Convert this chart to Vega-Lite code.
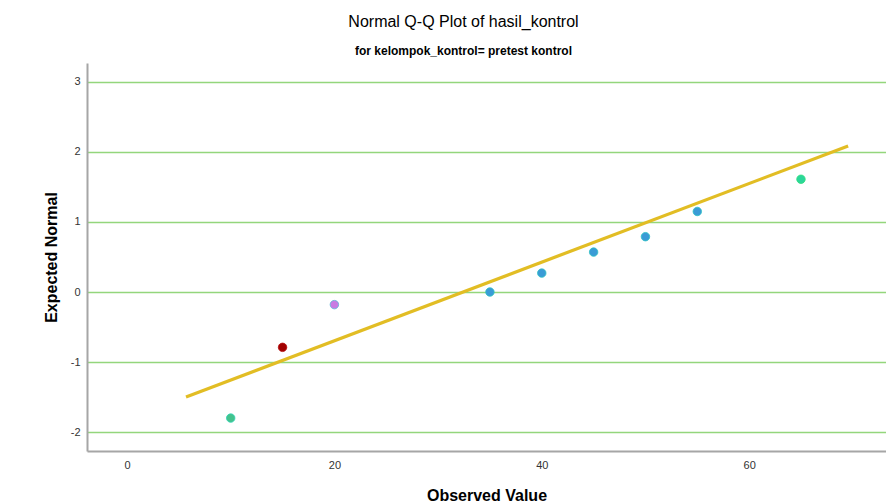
{
  "$schema": "https://vega.github.io/schema/vega-lite/v6.json",
  "width": 799,
  "height": 388,
  "autosize": "none",
  "padding": {"left": 87, "top": 63, "right": 0, "bottom": 52},
  "background": "white",
  "config": {
    "view": {"stroke": null},
    "font": "Liberation Sans"
  },
  "title": {
    "text": "Normal Q-Q Plot of hasil_kontrol",
    "subtitle": "for kelompok_kontrol= pretest kontrol",
    "anchor": "middle",
    "dx": -23,
    "fontSize": 16,
    "fontWeight": "normal",
    "font": "Liberation Sans",
    "color": "#000000",
    "subtitleFontSize": 12,
    "subtitleFontWeight": "bold",
    "subtitleFont": "Liberation Sans",
    "subtitleColor": "#000000",
    "subtitlePadding": 16,
    "offset": 6
  },
  "datasets": {
    "pts": [
      {"observed": 10, "expected": -1.80},
      {"observed": 15, "expected": -0.79},
      {"observed": 20, "expected": -0.18},
      {"observed": 35, "expected": 0.00},
      {"observed": 40, "expected": 0.27},
      {"observed": 45, "expected": 0.57},
      {"observed": 50, "expected": 0.79},
      {"observed": 55, "expected": 1.15},
      {"observed": 65, "expected": 1.61}
    ],
    "ref": [
      {"observed": 5.69, "expected": -1.50},
      {"observed": 69.55, "expected": 2.086}
    ]
  },
  "layer": [
    {
      "data": {"name": "ref"},
      "mark": {"type": "line", "color": "#e2bd24", "strokeWidth": 3.2, "clip": false},
      "encoding": {
        "x": {
          "field": "observed", "type": "quantitative",
          "scale": {"domain": [-3.86, 73.2], "nice": false, "zero": false},
          "axis": {
            "title": "Observed Value",
            "titleFont": "Liberation Sans",
            "titleFontSize": 16,
            "titleFontWeight": "bold",
            "titleColor": "#000000",
            "titlePadding": 17,
            "values": [0, 20, 40, 60],
            "labelExpr": "'' + datum.value",
            "labelFont": "Liberation Sans",
            "labelFontSize": 11,
            "labelColor": "#333333",
            "labelPadding": 8,
            "ticks": false,
            "grid": false,
            "domainColor": "#a6a6a6",
            "domainWidth": 2
          }
        },
        "y": {
          "field": "expected", "type": "quantitative",
          "scale": {"domain": [-2.27, 3.27], "nice": false, "zero": false},
          "axis": {
            "title": "Expected Normal",
            "titleFont": "Liberation Sans",
            "titleFontSize": 16,
            "titleFontWeight": "bold",
            "titleColor": "#000000",
            "titlePadding": 11,
            "values": [-2, -1, 0, 1, 2, 3],
            "labelExpr": "'' + datum.value",
            "labelFont": "Liberation Sans",
            "labelFontSize": 11,
            "labelColor": "#333333",
            "labelPadding": 7,
            "ticks": false,
            "grid": true,
            "gridColor": "#94d67c",
            "gridWidth": 1.3,
            "gridOpacity": 1,
            "domainColor": "#a6a6a6",
            "domainWidth": 2
          }
        }
      }
    },
    {
      "data": {"name": "pts"},
      "mark": {"type": "point", "filled": true, "size": 72, "opacity": 1, "strokeWidth": 0.8, "strokeOpacity": 1},
      "encoding": {
        "x": {"field": "observed", "type": "quantitative"},
        "y": {"field": "expected", "type": "quantitative"},
        "fill": {
          "field": "observed", "type": "nominal", "legend": null,
          "scale": {
            "domain": [10, 15, 20, 35, 40, 45, 50, 55, 65],
            "range": ["#44c28c", "#a10000", "#c97be2", "#3a9bd6", "#3a9bd6", "#3a9bd6", "#3a9bd6", "#3a9bd6", "#2cd69a"]
          }
        },
        "stroke": {
          "field": "observed", "type": "nominal", "legend": null,
          "scale": {
            "domain": [10, 15, 20, 35, 40, 45, 50, 55, 65],
            "range": ["#2fd3b5", "#b81010", "#5ab4d8", "#2dc2c4", "#2dc2c4", "#2dc2c4", "#2dc2c4", "#2dc2c4", "#2ee07e"]
          }
        }
      }
    }
  ]
}
